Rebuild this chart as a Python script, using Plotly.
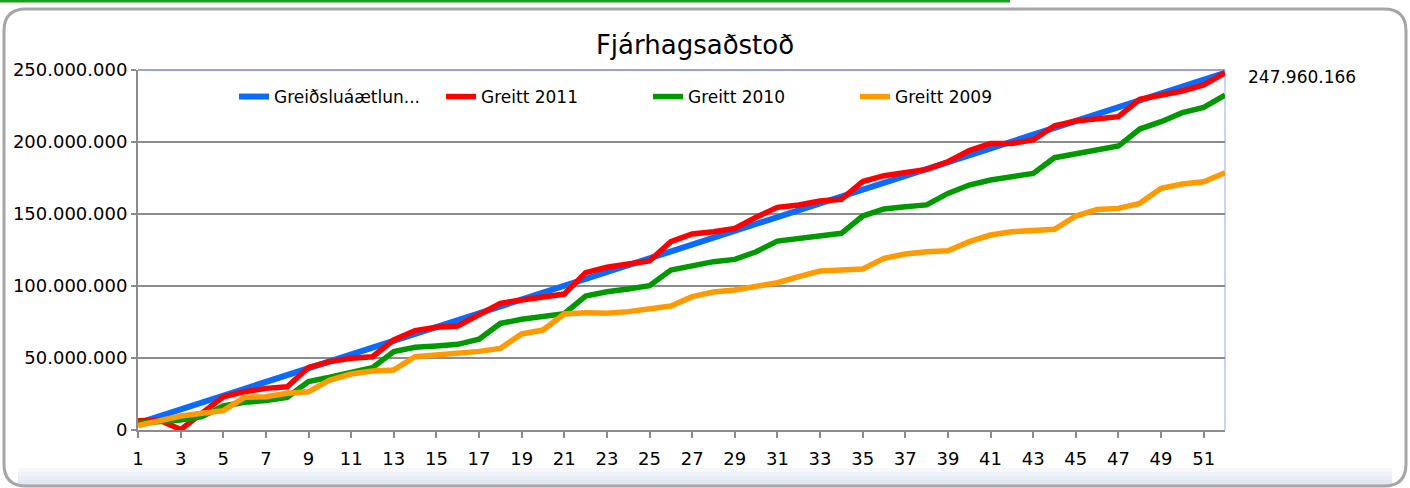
import plotly.graph_objects as go

weeks = list(range(1, 53))
x_tick_labels = [str(w) for w in range(1, 52, 2)]
y_tick_values = [0, 50e6, 100e6, 150e6, 200e6, 250e6]

# values in millions ISK
plan_m = [4.77, 9.54, 14.31, 19.07, 23.84, 28.61, 33.38, 38.15, 42.92, 47.69,
          52.45, 57.22, 61.99, 66.76, 71.53, 76.30, 81.06, 85.83, 90.60, 95.37,
          100.14, 104.91, 109.67, 114.44, 119.21, 123.98, 128.75, 133.52, 138.29, 143.05,
          147.82, 152.59, 157.36, 162.13, 166.90, 171.66, 176.43, 181.20, 185.97, 190.74,
          195.51, 200.28, 205.04, 209.81, 214.58, 219.35, 224.12, 228.89, 233.66, 238.42,
          243.19, 247.96]
paid_2011_m = [6.5, 7.0, 0.3, 12.0, 23.0, 26.6, 28.9, 30.0, 43.5, 47.5,
               49.8, 50.9, 62.5, 69.0, 71.3, 72.2, 80.5, 88.0, 90.3, 92.1,
               94.4, 109.3, 113.0, 115.3, 117.4, 130.8, 136.1, 137.7, 140.0, 147.7,
               154.6, 156.3, 159.0, 160.2, 172.5, 176.6, 179.2, 181.0, 186.3, 194.0,
               199.0, 199.0, 201.4, 211.3, 214.6, 216.4, 217.6, 229.6, 232.6, 235.4,
               239.6, 247.960166]
paid_2010_m = [4.6, 5.8, 7.0, 9.3, 16.7, 19.2, 20.4, 22.7, 33.6, 36.6,
               39.5, 43.3, 54.4, 57.4, 58.3, 59.5, 63.0, 74.0, 76.9, 78.7,
               80.8, 93.0, 96.0, 97.9, 100.2, 111.1, 114.4, 116.9, 118.5, 123.8,
               131.2, 133.1, 135.4, 136.6, 148.6, 153.5, 155.1, 156.3, 164.3, 170.1,
               173.6, 175.5, 178.2, 189.1, 192.1, 194.4, 197.2, 209.0, 214.1, 220.4,
               224.0, 232.6]
paid_2009_m = [3.0, 6.5, 9.7, 11.6, 13.4, 22.7, 23.1, 25.5, 26.6, 34.7,
               38.9, 41.0, 41.7, 50.9, 52.0, 53.2, 54.6, 56.7, 66.7, 69.4,
               80.6, 81.5, 81.0, 82.2, 84.0, 86.1, 92.6, 95.8, 97.2, 99.5,
               102.3, 106.5, 110.4, 111.1, 111.8, 119.2, 122.2, 123.8, 124.5, 130.8,
               135.4, 137.7, 138.9, 139.4, 148.6, 153.2, 153.9, 157.4, 167.8, 170.8,
               172.4, 178.7]

series_names = ["Greiðsluáætlun...", "Greitt 2011", "Greitt 2010", "Greitt 2009"]
series_vals = [plan_m, paid_2011_m, paid_2010_m, paid_2009_m]
colors = ["#0a6cff", "#ff0000", "#009a00", "#ff9a00"]
widths = [6, 5.5, 5.5, 5.5]
end_label = "247.960.166"

FONT = "DejaVu Sans"
W, H = 1410, 488
L, R, T, B = 138, 1225, 70, 430


def px(x):
    return (x - L) / (R - L)


def py(y):
    return (B - y) / (B - T)


fig = go.Figure()
for name, vals, c, w in zip(series_names, series_vals, colors, widths):
    fig.add_trace(go.Scatter(
        x=weeks, y=[v * 1e6 for v in vals], name=name, mode="lines",
        line=dict(color=c, width=w), hoverinfo="x+y+name"))

fig.add_annotation(x=px(1246), y=py(77), xref="paper", yref="paper",
                   text=end_label, showarrow=False, xanchor="left", yanchor="middle",
                   font=dict(family=FONT, size=17, color="#000"))

# rounded outer frame
x0, x1, y0, y1, r = 4, 1406, 9, 486, 22
path = (f"M {px(x0 + r)},{py(y0)} L {px(x1 - r)},{py(y0)} Q {px(x1)},{py(y0)} {px(x1)},{py(y0 + r)} "
        f"L {px(x1)},{py(y1 - r)} Q {px(x1)},{py(y1)} {px(x1 - r)},{py(y1)} "
        f"L {px(x0 + r)},{py(y1)} Q {px(x0)},{py(y1)} {px(x0)},{py(y1 - r)} "
        f"L {px(x0)},{py(y0 + r)} Q {px(x0)},{py(y0)} {px(x0 + r)},{py(y0)} Z")
shapes = []
# subtle bottom gradient band
band = [(468, 472, "#f6f8fc"), (472, 476, "#eff3f9"), (476, 480, "#e8eef6"),
        (480, 484, "#e1e8f2"), (484, 487, "#dae3ef")]
for a, b, col in band:
    shapes.append(dict(type="rect", xref="paper", yref="paper", layer="below",
                       x0=px(x0 + 14), x1=px(x1 - 14), y0=py(b), y1=py(a),
                       fillcolor=col, line=dict(width=0)))
shapes.append(dict(type="path", xref="paper", yref="paper", path=path,
                   line=dict(color="#a6a6a6", width=3), layer="above"))
# green line at top
shapes.append(dict(type="line", xref="paper", yref="paper", x0=px(0), x1=px(1010),
                   y0=py(1), y1=py(1), line=dict(color="#1f9f1f", width=3)))
# plot area border top/right
shapes.append(dict(type="line", xref="paper", yref="paper", x0=0, x1=1, y0=1, y1=1,
                   line=dict(color="#9da3d6", width=2), layer="below"))
shapes.append(dict(type="line", xref="paper", yref="paper", x0=1, x1=1, y0=0, y1=1,
                   line=dict(color="#b9c6f0", width=1.5), layer="below"))

fig.update_layout(
    width=W, height=H,
    margin=dict(l=L, r=W - R, t=T, b=H - B),
    paper_bgcolor="white", plot_bgcolor="white",
    separators=",.",
    font=dict(family=FONT, size=17, color="#000"),
    title=dict(text="Fjárhagsaðstoð", x=695 / W, xanchor="center",
               y=1 - 45 / H, yanchor="middle",
               font=dict(family=FONT, size=26, color="#000")),
    legend=dict(orientation="h", x=px(234), xanchor="left", y=py(97), yanchor="middle",
                bgcolor="rgba(0,0,0,0)", font=dict(family=FONT, size=17),
                entrywidth=162, entrywidthmode="pixels", traceorder="normal"),
    shapes=shapes,
    xaxis=dict(range=[1, 52], tickmode="array", tickvals=list(range(1, 52, 2)),
               ticktext=x_tick_labels, showgrid=False, zeroline=False,
               showline=True, linecolor="#8c8c8c", linewidth=2,
               ticks="outside", ticklen=6, tickwidth=1.5, tickcolor="#8c8c8c",
               ticklabelstandoff=5,
               tickfont=dict(family=FONT, size=18), fixedrange=True),
    yaxis=dict(range=[0, 250e6], tickmode="array", tickvals=y_tick_values,
               tickformat=",.0f", showgrid=True, gridcolor="#8c8c8c", gridwidth=2,
               zeroline=False, showline=True, linecolor="#8c8c8c", linewidth=2,
               ticks="outside", ticklen=5, tickwidth=1.5, tickcolor="#8c8c8c",
               tickfont=dict(family=FONT, size=18), fixedrange=True),
)

fig.write_html("out.html", config={"displayModeBar": False},
               post_script="document.body.style.margin='0';")
